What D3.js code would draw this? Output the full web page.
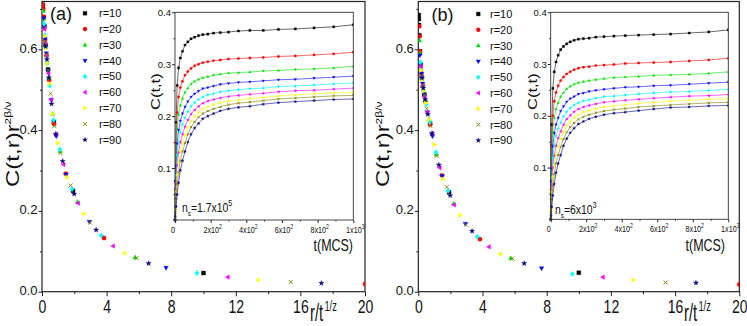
<!DOCTYPE html>
<html>
<head>
<meta charset="utf-8">
<script src="https://cdn.jsdelivr.net/npm/d3@7"></script>
<style>
  body { margin: 0; background: #fff; }
  svg { display: block; font-family: "Liberation Sans", Arial, sans-serif; }
</style>
</head>
<body>
<div id="container"></div>
<script>
let width = 747;
let height = 326;

// ---- data ----
const rLabels = ["r=10", "r=20", "r=30", "r=40", "r=50", "r=60", "r=70", "r=80", "r=90"];
const rColors = ["#000000", "#ff0000", "#00e000", "#0000ff", "#00ffff", "#ff00ff", "#ffff00", "#808000", "#000080"];
const rShapes = ["square", "circle", "triUp", "triDown", "diamond", "triLeft", "triRight", "cross", "star"];

const mainXTicks = [0, 4, 8, 12, 16, 20];
const mainXMinor = [2, 6, 10, 14, 18];
const mainYTicks = [0.0, 0.2, 0.4, 0.6];
const mainYMinor = [0.1, 0.3, 0.5, 0.7];
const insetYTicks = [0.1, 0.2, 0.3, 0.4];
const insetYMinor = [0.05, 0.15, 0.25, 0.35];
const insetXTicks = [0, 200, 400, 600, 800, 1000];
const insetXMinor = [100, 300, 500, 700, 900];
const insetXBase = ["0", "2x10", "4x10", "6x10", "8x10", "1x10"];
const insetXExp = ["", "2", "2", "2", "2", "3"];

const panelTags = ["(a)", "(b)"];
const nsMantissa = ["=1.7x10", "=6x10"];
const nsExponent = ["5", "3"];

// inset: C(t,t) vs t (MCS)
const insetT = [0, 2, 6, 12, 20, 30, 42, 56, 72, 90, 110, 132, 156, 184, 216, 254, 300, 356, 420, 495, 580, 675, 780, 890, 1000];

const insetA = [
  [0, 0.075, 0.188, 0.259, 0.293, 0.312, 0.325, 0.337, 0.343, 0.349, 0.352, 0.355, 0.357, 0.358, 0.360, 0.361, 0.362, 0.364, 0.365, 0.365, 0.367, 0.368, 0.370, 0.372, 0.376],
  [0, 0.059, 0.149, 0.207, 0.237, 0.255, 0.267, 0.279, 0.286, 0.292, 0.297, 0.300, 0.303, 0.305, 0.307, 0.308, 0.310, 0.311, 0.312, 0.313, 0.315, 0.316, 0.318, 0.320, 0.323],
  [0, 0.049, 0.125, 0.176, 0.203, 0.221, 0.234, 0.246, 0.254, 0.262, 0.267, 0.271, 0.274, 0.276, 0.279, 0.281, 0.283, 0.284, 0.285, 0.287, 0.288, 0.290, 0.291, 0.293, 0.296],
  [0, 0.040, 0.103, 0.147, 0.173, 0.191, 0.205, 0.218, 0.228, 0.237, 0.243, 0.248, 0.253, 0.255, 0.258, 0.261, 0.263, 0.265, 0.266, 0.268, 0.270, 0.271, 0.273, 0.275, 0.277],
  [0, 0.032, 0.086, 0.125, 0.150, 0.169, 0.184, 0.197, 0.209, 0.219, 0.226, 0.232, 0.237, 0.241, 0.243, 0.247, 0.249, 0.251, 0.253, 0.254, 0.257, 0.258, 0.260, 0.262, 0.264],
  [0, 0.026, 0.071, 0.106, 0.130, 0.150, 0.165, 0.180, 0.193, 0.204, 0.212, 0.219, 0.225, 0.229, 0.232, 0.235, 0.238, 0.240, 0.242, 0.244, 0.247, 0.249, 0.250, 0.252, 0.254],
  [0, 0.020, 0.056, 0.087, 0.111, 0.132, 0.148, 0.163, 0.178, 0.191, 0.200, 0.207, 0.214, 0.218, 0.222, 0.226, 0.229, 0.231, 0.234, 0.236, 0.239, 0.241, 0.243, 0.245, 0.246],
  [0, 0.014, 0.041, 0.069, 0.092, 0.114, 0.132, 0.148, 0.165, 0.179, 0.189, 0.198, 0.205, 0.210, 0.214, 0.218, 0.222, 0.225, 0.227, 0.230, 0.233, 0.235, 0.237, 0.239, 0.240],
  [0, 0.007, 0.026, 0.049, 0.072, 0.096, 0.114, 0.132, 0.150, 0.165, 0.177, 0.186, 0.195, 0.200, 0.205, 0.210, 0.214, 0.217, 0.219, 0.223, 0.226, 0.228, 0.230, 0.232, 0.233]
];

const insetB = [
  [0, 0.073, 0.183, 0.253, 0.285, 0.304, 0.317, 0.328, 0.334, 0.339, 0.343, 0.346, 0.348, 0.349, 0.350, 0.352, 0.353, 0.354, 0.355, 0.356, 0.357, 0.358, 0.360, 0.362, 0.366],
  [0, 0.057, 0.143, 0.200, 0.228, 0.245, 0.258, 0.268, 0.275, 0.281, 0.285, 0.289, 0.292, 0.294, 0.295, 0.297, 0.298, 0.299, 0.301, 0.302, 0.303, 0.304, 0.306, 0.308, 0.311],
  [0, 0.047, 0.120, 0.169, 0.196, 0.213, 0.225, 0.237, 0.245, 0.252, 0.257, 0.261, 0.264, 0.266, 0.268, 0.270, 0.272, 0.274, 0.275, 0.276, 0.278, 0.279, 0.280, 0.282, 0.285],
  [0, 0.038, 0.098, 0.141, 0.166, 0.183, 0.196, 0.209, 0.218, 0.227, 0.233, 0.237, 0.242, 0.244, 0.247, 0.249, 0.251, 0.253, 0.255, 0.256, 0.258, 0.259, 0.261, 0.263, 0.265],
  [0, 0.031, 0.081, 0.119, 0.143, 0.161, 0.175, 0.187, 0.199, 0.208, 0.215, 0.221, 0.225, 0.229, 0.231, 0.234, 0.237, 0.238, 0.240, 0.242, 0.244, 0.246, 0.247, 0.249, 0.251],
  [0, 0.025, 0.067, 0.100, 0.123, 0.142, 0.157, 0.170, 0.183, 0.194, 0.201, 0.208, 0.213, 0.217, 0.220, 0.223, 0.226, 0.228, 0.230, 0.232, 0.234, 0.236, 0.238, 0.239, 0.241],
  [0, 0.019, 0.053, 0.082, 0.105, 0.125, 0.140, 0.155, 0.169, 0.181, 0.189, 0.196, 0.202, 0.207, 0.210, 0.214, 0.217, 0.219, 0.221, 0.224, 0.226, 0.228, 0.230, 0.232, 0.233],
  [0, 0.013, 0.039, 0.065, 0.087, 0.108, 0.124, 0.140, 0.155, 0.168, 0.178, 0.186, 0.193, 0.198, 0.202, 0.206, 0.209, 0.212, 0.214, 0.217, 0.219, 0.221, 0.223, 0.225, 0.226],
  [0, 0.007, 0.024, 0.046, 0.068, 0.090, 0.108, 0.124, 0.142, 0.156, 0.167, 0.176, 0.184, 0.189, 0.194, 0.198, 0.202, 0.205, 0.207, 0.210, 0.213, 0.216, 0.217, 0.219, 0.220]
];

// main: C(t,r) r^(2b/v) vs r/t^(1/z)
const collapseX = [
  [10, 1.92, 0.733, 0.372, 0.221, 0.142, 0.095, 0.066, 0.047, 0.034, 0.025],
  [20, 3.84, 1.47, 0.744, 0.442, 0.284, 0.19, 0.132, 0.094, 0.068, 0.05],
  [5.76, 2.2, 1.12, 0.663, 0.426, 0.285, 0.198, 0.141, 0.102, 0.075],
  [7.68, 2.93, 1.49, 0.884, 0.568, 0.38, 0.264, 0.188, 0.136, 0.1],
  [9.6, 3.67, 1.86, 1.1, 0.71, 0.475, 0.33, 0.235, 0.17, 0.125],
  [11.5, 4.4, 2.23, 1.33, 0.852, 0.57, 0.396, 0.282, 0.204, 0.15],
  [13.4, 5.13, 2.6, 1.55, 0.994, 0.665, 0.462, 0.329, 0.238, 0.175],
  [15.4, 5.86, 2.98, 1.77, 1.14, 0.76, 0.528, 0.376, 0.272, 0.2],
  [17.3, 6.6, 3.35, 1.99, 1.28, 0.855, 0.594, 0.423, 0.306, 0.225]
];

const collapseYA = [
  [0.046, 0.25, 0.42, 0.55, 0.61, 0.655, 0.68, 0.70, 0.71, 0.725, 0.74],
  [0.019, 0.133, 0.292, 0.415, 0.524, 0.585, 0.623, 0.66, 0.68, 0.70, 0.71],
  [0.085, 0.222, 0.347, 0.44, 0.53, 0.585, 0.62, 0.655, 0.675, 0.695],
  [0.059, 0.173, 0.29, 0.385, 0.475, 0.546, 0.59, 0.625, 0.657, 0.677],
  [0.046, 0.139, 0.254, 0.352, 0.425, 0.51, 0.565, 0.605, 0.635, 0.663],
  [0.036, 0.113, 0.219, 0.315, 0.39, 0.475, 0.54, 0.585, 0.617, 0.65],
  [0.029, 0.095, 0.193, 0.283, 0.368, 0.44, 0.515, 0.565, 0.603, 0.633],
  [0.024, 0.083, 0.171, 0.263, 0.343, 0.41, 0.49, 0.548, 0.588, 0.62],
  [0.021, 0.070, 0.153, 0.242, 0.323, 0.39, 0.465, 0.53, 0.575, 0.607]
];

const collapseYB = [
  [0.047, 0.246, 0.417, 0.488, 0.53, 0.56, 0.595, 0.635, 0.66, 0.675, 0.685],
  [0.018, 0.13, 0.288, 0.414, 0.471, 0.509, 0.54, 0.565, 0.595, 0.632, 0.657],
  [0.083, 0.218, 0.34, 0.426, 0.475, 0.509, 0.537, 0.56, 0.59, 0.622],
  [0.058, 0.168, 0.286, 0.385, 0.444, 0.486, 0.515, 0.54, 0.562, 0.585],
  [0.044, 0.136, 0.25, 0.345, 0.42, 0.464, 0.498, 0.526, 0.55, 0.568],
  [0.036, 0.111, 0.215, 0.307, 0.392, 0.444, 0.482, 0.51, 0.533, 0.557],
  [0.029, 0.093, 0.189, 0.279, 0.364, 0.426, 0.467, 0.498, 0.525, 0.548],
  [0.023, 0.082, 0.166, 0.259, 0.336, 0.41, 0.453, 0.487, 0.512, 0.535],
  [0.022, 0.07, 0.15, 0.238, 0.314, 0.392, 0.439, 0.476, 0.504, 0.529]
];

// ---- layout for the two panels ----
const layout = [
  { mx0: 42, mx1: 365, mTop: 1.5, mBot: 291.7, m06: 49.3,
    ix0: 175, ix1: 353.3, iTop: 12.3, iBot: 220,
    tagX: 50, tagY: 20, legM: 85, legT: 99, legY: 13.3,
    yLabX: 18.5, yLabY: 187, xLabX: 310, xLabY: 320.5,
    iyLabX: 160, iyLabY: 110, ixLabX: 353, ixLabY: 250.5, nsX: 182, nsY: 211.5 },
  { mx0: 418.3, mx1: 739.3, mTop: 1.5, mBot: 291.7, m06: 49.3,
    ix0: 550.7, ix1: 728.3, iTop: 12.3, iBot: 219.3,
    tagX: 431.5, tagY: 21, legM: 478.3, legT: 490, legY: 14,
    yLabX: 389, yLabY: 187, xLabX: 684, xLabY: 320.5,
    iyLabX: 537, iyLabY: 110, ixLabX: 725, ixLabY: 250.5, nsX: 555, nsY: 214 }
];

let svg = d3.select("#container")
  .append("svg")
  .attr("width", width)
  .attr("height", height);

function markerPath(shape, s) {
  switch (shape) {
    case "square": return `M${-s},${-s}h${2 * s}v${2 * s}h${-2 * s}Z`;
    case "circle": return d3.symbol(d3.symbolCircle, Math.PI * s * s * 1.2)();
    case "triUp": return `M0,${-1.25 * s}L${1.15 * s},${0.8 * s}L${-1.15 * s},${0.8 * s}Z`;
    case "triDown": return `M0,${1.25 * s}L${1.15 * s},${-0.8 * s}L${-1.15 * s},${-0.8 * s}Z`;
    case "triLeft": return `M${-1.25 * s},0L${0.8 * s},${-1.15 * s}L${0.8 * s},${1.15 * s}Z`;
    case "triRight": return `M${1.25 * s},0L${-0.8 * s},${-1.15 * s}L${-0.8 * s},${1.15 * s}Z`;
    case "diamond": return `M0,${-1.35 * s}L${1.1 * s},0L0,${1.35 * s}L${-1.1 * s},0Z`;
    case "cross": return `M${-s},${-s}L${s},${s}M${-s},${s}L${s},${-s}`;
    case "star": return d3.symbol(d3.symbolStar, 2.2 * s * s)();
  }
}

function drawMarkers(sel, i, s) {
  let cross = rShapes[i] === "cross";
  sel.attr("d", markerPath(rShapes[i], s))
    .attr("fill", cross ? "none" : rColors[i])
    .attr("stroke", rColors[i])
    .attr("stroke-width", cross ? 0.9 : 0.3);
}

function styleAxis(g) {
  g.select(".domain").remove();
  g.selectAll("line").attr("stroke", "#222").attr("stroke-width", 1);
}

function drawPanel(k, insetC, collapseY) {
  let p = layout[k];
  let g = svg.append("g");

  // main scales
  let x = d3.scaleLinear().domain([0, 20]).range([p.mx0, p.mx1]);
  let y = d3.scaleLinear().domain([0, 0.6]).range([p.mBot, p.m06]);

  let clipId = "clipMain" + k;
  g.append("clipPath").attr("id", clipId)
    .append("rect")
    .attr("x", p.mx0).attr("y", p.mTop)
    .attr("width", p.mx1 - p.mx0).attr("height", p.mBot - p.mTop);

  // main axes
  g.append("g").attr("transform", `translate(0,${p.mBot})`)
    .call(d3.axisBottom(x).tickValues(mainXMinor).tickSize(2.5).tickFormat(""))
    .call(styleAxis);
  let xa = g.append("g").attr("transform", `translate(0,${p.mBot})`)
    .call(d3.axisBottom(x).tickValues(mainXTicks).tickSize(4.5).tickPadding(4.5))
    .call(styleAxis);
  xa.selectAll("text")
    .attr("font-size", 18).attr("fill", "#111")
    .attr("font-family", "Liberation Sans, Arial, sans-serif")
    .attr("transform", "scale(0.78,1)");

  g.append("g").attr("transform", `translate(${p.mx0},0)`)
    .call(d3.axisLeft(y).tickValues(mainYMinor.filter(v => y(v) > p.mTop)).tickSize(2).tickFormat(""))
    .call(styleAxis);
  let ya = g.append("g").attr("transform", `translate(${p.mx0},0)`)
    .call(d3.axisLeft(y).tickValues(mainYTicks).tickSize(3.5).tickPadding(1).tickFormat(d3.format(".1f")))
    .call(styleAxis);
  ya.selectAll("text")
    .attr("font-size", 13).attr("fill", "#111")
    .attr("font-family", "Liberation Sans, Arial, sans-serif")
    .attr("dy", "0").attr("y", 3);

  // frame
  g.append("rect")
    .attr("x", p.mx0).attr("y", p.mTop)
    .attr("width", p.mx1 - p.mx0).attr("height", p.mBot - p.mTop)
    .attr("fill", "none").attr("stroke", "#222").attr("stroke-width", 1.2);

  // collapse points
  let pts = g.append("g").attr("clip-path", `url(#${clipId})`);
  collapseX.forEach(function (xs, i) {
    let data = xs.map((v, j) => [v, collapseY[i][j]]);
    pts.selectAll(null).data(data).enter()
      .append("path")
      .attr("transform", d => `translate(${x(d[0])},${y(d[1])})`)
      .call(drawMarkers, i, 2.0);
  });

  // legend
  rLabels.forEach(function (lab, i) {
    let ly = p.legY + i * 15.8;
    g.append("path")
      .attr("transform", `translate(${p.legM},${ly})`)
      .call(drawMarkers, i, 1.9);
    g.append("text")
      .attr("x", p.legT).attr("y", ly).attr("dy", "0.36em")
      .attr("font-size", 11).attr("fill", "#111")
      .text(lab);
  });

  g.append("text")
    .attr("x", p.tagX).attr("y", p.tagY)
    .attr("font-size", 18).attr("fill", "#111")
    .text(panelTags[k]);

  // y label C(t,r) r^{2b/v}
  let yl = g.append("text")
    .attr("transform", `translate(${p.yLabX},${p.yLabY}) scale(0.78,1) rotate(-90)`)
    .attr("font-size", 24).attr("fill", "#111");
  yl.append("tspan").text("C(t,r)r");
  yl.append("tspan").attr("font-size", 12).attr("dy", -9).text("2\u03b2/\u03bd");

  // x label r/t^{1/z}
  let xl = g.append("text")
    .attr("transform", `translate(${p.xLabX},${p.xLabY}) scale(0.62,1)`)
    .attr("font-size", 24).attr("fill", "#111");
  xl.append("tspan").text("r/t");
  xl.append("tspan").attr("font-size", 15).attr("dy", -10).attr("dx", 2).text("1/z");

  // ---- inset ----
  let ix = d3.scaleLinear().domain([0, 1000]).range([p.ix0, p.ix1]);
  let iy = d3.scaleLinear().domain([0, 0.4]).range([p.iBot, p.iTop]);

  g.append("rect")
    .attr("x", p.ix0).attr("y", p.iTop)
    .attr("width", p.ix1 - p.ix0).attr("height", p.iBot - p.iTop)
    .attr("fill", "#fff");

  let iclip = "clipInset" + k;
  g.append("clipPath").attr("id", iclip)
    .append("rect")
    .attr("x", p.ix0 - 2).attr("y", p.iTop)
    .attr("width", p.ix1 - p.ix0 + 2).attr("height", p.iBot - p.iTop + 2);

  let curves = g.append("g").attr("clip-path", `url(#${iclip})`);
  let line = d3.line().x((d, j) => ix(insetT[j])).y(d => iy(d));
  insetC.forEach(function (vals, i) {
    curves.append("path")
      .attr("d", line(vals))
      .attr("fill", "none")
      .attr("stroke", rColors[i])
      .attr("stroke-opacity", 0.75)
      .attr("stroke-width", 0.8);
    curves.selectAll(null).data(vals).enter()
      .append("path")
      .attr("transform", (d, j) => `translate(${ix(insetT[j])},${iy(d)})`)
      .call(drawMarkers, i, 1.1);
  });

  g.append("g").attr("transform", `translate(0,${p.iBot})`)
    .call(d3.axisBottom(ix).tickValues(insetXMinor).tickSize(1.5).tickFormat(""))
    .call(styleAxis);
  g.append("g").attr("transform", `translate(0,${p.iBot})`)
    .call(d3.axisBottom(ix).tickValues(insetXTicks).tickSize(3).tickFormat(""))
    .call(styleAxis);
  g.append("g").attr("transform", `translate(${p.ix0},0)`)
    .call(d3.axisLeft(iy).tickValues(insetYMinor).tickSize(1.5).tickFormat(""))
    .call(styleAxis);
  let iya = g.append("g").attr("transform", `translate(${p.ix0},0)`)
    .call(d3.axisLeft(iy).tickValues(insetYTicks).tickSize(3).tickPadding(1).tickFormat(d3.format(".1f")))
    .call(styleAxis);
  iya.selectAll("text").attr("font-size", 9.5).attr("fill", "#111")
    .attr("font-family", "Liberation Sans, Arial, sans-serif");

  insetXTicks.forEach(function (v, j) {
    let t = g.append("text")
      .attr("transform", `translate(${ix(v) + (j === 0 ? -2 : 2)},${p.iBot + 12.5}) scale(0.8,1)`)
      .attr("text-anchor", "middle")
      .attr("font-size", 9).attr("fill", "#111");
    t.append("tspan").text(insetXBase[j]);
    if (insetXExp[j]) t.append("tspan").attr("font-size", 6.5).attr("dy", -4).text(insetXExp[j]);
  });

  g.append("rect")
    .attr("x", p.ix0).attr("y", p.iTop)
    .attr("width", p.ix1 - p.ix0).attr("height", p.iBot - p.iTop)
    .attr("fill", "none").attr("stroke", "#333").attr("stroke-width", 0.9);

  g.append("text")
    .attr("transform", `translate(${p.iyLabX},${p.iyLabY}) scale(0.78,1) rotate(-90)`)
    .attr("font-size", 16.5).attr("fill", "#111")
    .text("C(t,t)");

  g.append("text")
    .attr("transform", `translate(${p.ixLabX},${p.ixLabY}) scale(0.78,1)`)
    .attr("text-anchor", "end")
    .attr("font-size", 16).attr("fill", "#111")
    .text("t(MCS)");

  let ns = g.append("text")
    .attr("transform", `translate(${p.nsX},${p.nsY}) scale(0.8,1)`)
    .attr("font-size", 13).attr("fill", "#111");
  ns.append("tspan").text("n");
  ns.append("tspan").attr("font-size", 8).attr("dy", 4).text("s");
  ns.append("tspan").attr("dy", -4).text(nsMantissa[k]);
  ns.append("tspan").attr("font-size", 9).attr("dy", -6).text(nsExponent[k]);
}

drawPanel(0, insetA, collapseYA);
drawPanel(1, insetB, collapseYB);
</script>
</body>
</html>
